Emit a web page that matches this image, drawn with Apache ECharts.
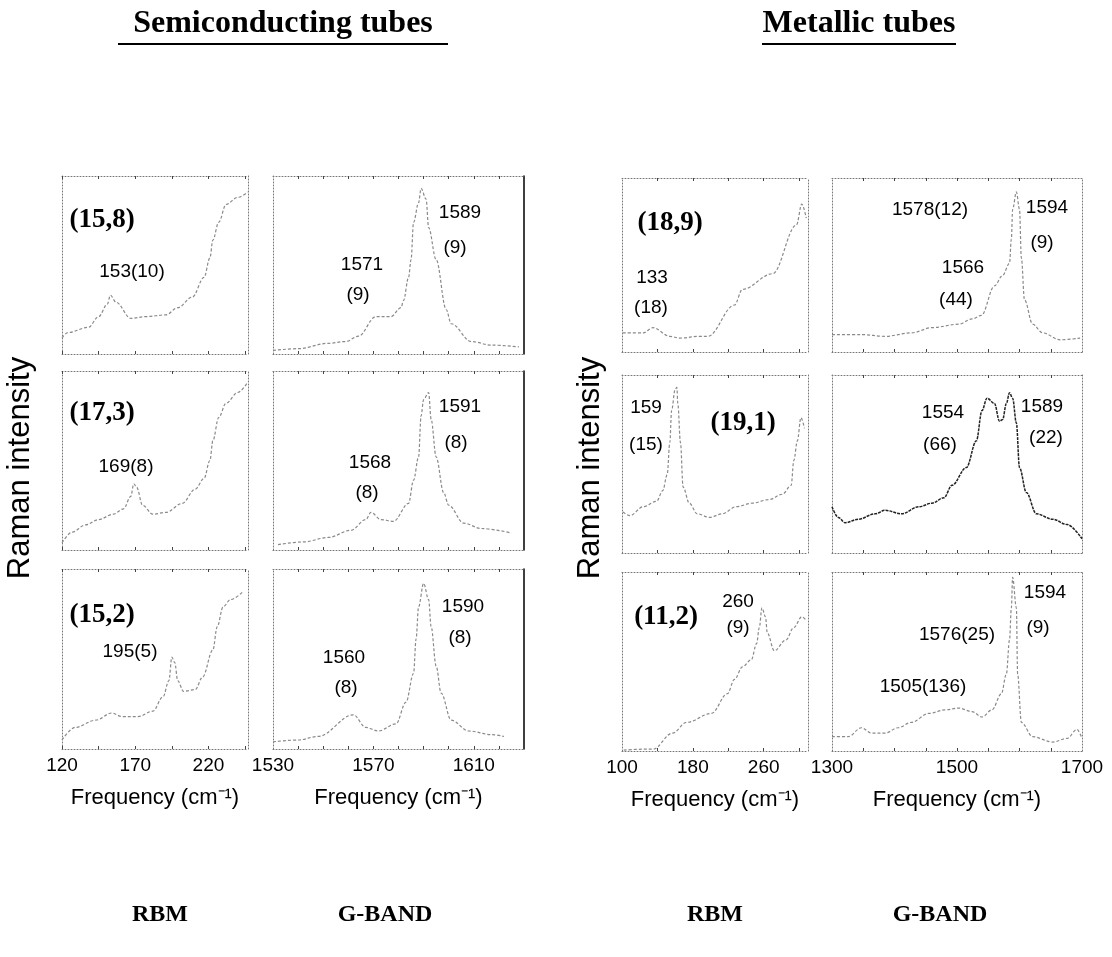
<!DOCTYPE html>
<html><head><meta charset="utf-8">
<script src="https://cdn.jsdelivr.net/npm/echarts@6/dist/echarts.min.js"></script>
<style>html,body{margin:0;padding:0;background:#fff}#c{width:1112px;height:957px}</style>
</head><body><div id="c"></div>
<script>
// ---------- tick labels ----------
const semiRBMTicks = [120, 170, 220];
const semiGTicks = [1530, 1570, 1610];
const metRBMTicks = [100, 180, 260];
const metGTicks = [1300, 1500, 1700];

// ---------- spectra (frequency in cm-1, normalised intensity) ----------
// Semiconducting (15,8)
const s158RbmFreq = [120,124,138,145,151,153,157,167,177,191,199,209,217,221,223,227,232,240,247];
const s158RbmInt  = [.09,.12,.15,.21,.28,.33,.29,.20,.21,.22,.26,.32,.43,.54,.64,.74,.84,.88,.91];
const s158GFreq = [1530,1540,1552,1559,1564,1571,1577,1581,1582,1584,1585,1586,1588,1589,1591,1592,1595,1599,1601,1609,1617,1628];
const s158GInt  = [.02,.03,.06,.07,.10,.21,.21,.26,.30,.43,.53,.74,.85,.93,.87,.71,.53,.25,.17,.07,.05,.04];
// Semiconducting (17,3)
const s173RbmFreq = [120,127,136,145,155,162,167,169,171,175,182,191,202,211,217,221,223,227,232,240,247];
const s173RbmInt  = [.04,.10,.14,.17,.20,.23,.30,.37,.35,.25,.20,.21,.26,.34,.40,.50,.61,.74,.82,.88,.94];
const s173GFreq = [1532,1542,1552,1561,1567,1569,1573,1578,1584,1586,1588,1589,1590,1592,1593,1595,1598,1600,1606,1613,1625];
const s173GInt  = [.03,.045,.07,.11,.17,.21,.17,.16,.26,.39,.52,.75,.84,.88,.73,.52,.32,.25,.15,.12,.095];
// Semiconducting (15,2)
const s152RbmFreq = [120,129,143,154,161,172,182,189,193,195,197,199,203,211,216,223,226,230,235,243];
const s152RbmInt  = [.05,.12,.16,.20,.18,.18,.21,.29,.38,.51,.48,.38,.32,.33,.40,.55,.68,.79,.83,.87];
const s152GFreq = [1530,1540,1548,1562,1567,1572,1579,1583,1586,1587,1588,1590,1592,1593,1595,1597,1601,1608,1617,1622];
const s152GInt  = [.04,.05,.07,.19,.12,.10,.14,.26,.42,.61,.79,.92,.83,.68,.46,.31,.16,.10,.08,.07];
// Metallic (18,9)
const m189RbmFreq = [101,124,135,154,165,188,197,227,236,270,297,303,308];
const m189RbmInt  = [.11,.11,.14,.09,.08,.09,.09,.27,.36,.45,.73,.85,.77];
const m189GFreq = [1300,1347,1385,1427,1460,1503,1524,1539,1560,1573,1584,1587,1589,1595,1600,1603,1608,1621,1637,1665,1697];
const m189GInt  = [.10,.10,.09,.11,.14,.16,.19,.21,.38,.44,.51,.65,.82,.92,.82,.54,.30,.16,.11,.07,.08];
// Metallic (19,1)
const m191RbmFreq = [101,109,124,139,146,151,154,156,160,162,163,166,169,176,185,199,213,229,247,266,281,291,294,298,302,306];
const m191RbmInt  = [.23,.21,.26,.29,.35,.44,.62,.80,.92,.93,.84,.62,.37,.28,.22,.20,.22,.26,.28,.30,.33,.38,.52,.63,.76,.70];
const m191GFreq = [1300,1310,1321,1342,1369,1385,1411,1439,1460,1479,1492,1515,1531,1540,1548,1560,1568,1573,1579,1584,1589,1595,1600,1611,1627,1653,1676,1700];
const m191GInt  = [.26,.20,.17,.19,.22,.24,.22,.26,.28,.31,.38,.48,.63,.80,.87,.84,.74,.75,.84,.90,.87,.73,.48,.34,.22,.19,.16,.08];
// Metallic (11,2)
const m112RbmFreq = [102,124,135,157,173,201,219,227,236,246,252,255,258,262,264,272,285,294,303,308];
const m112RbmInt  = [.005,.01,.01,.10,.16,.21,.32,.40,.47,.51,.60,.69,.80,.75,.66,.56,.62,.69,.75,.73];
const m112GFreq = [1300,1326,1347,1363,1385,1406,1427,1455,1482,1503,1524,1540,1556,1571,1579,1584,1587,1589,1595,1597,1603,1621,1653,1676,1692,1700];
const m112GInt  = [.08,.08,.13,.10,.10,.13,.16,.21,.23,.24,.22,.19,.23,.32,.43,.62,.80,.97,.80,.43,.16,.08,.05,.07,.12,.07];

// ---------- layout ----------
const cols = [{l:62,w:186},{l:273,w:251},{l:622,w:186},{l:832,w:250}];
const rowsSemi = [[176,354],[371,550],[569,749]];
const rowsMet  = [[178,352],[375,553],[572,751]];
const colRange = [[120,247],[1530,1630],[100,310],[1300,1700]];
const colLabels = [semiRBMTicks, semiGTicks, metRBMTicks, metGTicks];
const colTicks = [[120,145,170,195,220,245],
  [1540,1550,1560,1570,1580,1590,1600,1610,1620],
  [140,180,220,260,300],
  [1350,1400,1450,1500,1550,1600,1650]];

const panels = [
  {c:0,r:0,f:s158RbmFreq,i:s158RbmInt},{c:1,r:0,f:s158GFreq,i:s158GInt},
  {c:0,r:1,f:s173RbmFreq,i:s173RbmInt},{c:1,r:1,f:s173GFreq,i:s173GInt},
  {c:0,r:2,f:s152RbmFreq,i:s152RbmInt},{c:1,r:2,f:s152GFreq,i:s152GInt},
  {c:2,r:0,f:m189RbmFreq,i:m189RbmInt},{c:3,r:0,f:m189GFreq,i:m189GInt},
  {c:2,r:1,f:m191RbmFreq,i:m191RbmInt},{c:3,r:1,f:m191GFreq,i:m191GInt,dark:true},
  {c:2,r:2,f:m112RbmFreq,i:m112RbmInt},{c:3,r:2,f:m112GFreq,i:m112GInt}
];

const sansFam = '"Liberation Sans", Arial, sans-serif';
const grid=[], xAxis=[], yAxis=[], series=[];
const dotted = {color:'#777', width:1, type:[1,2]};
panels.forEach((p,k)=>{
  const col = cols[p.c];
  const rr = (p.c<2 ? rowsSemi : rowsMet)[p.r];
  grid.push({left:col.l, top:rr[0], width:col.w, height:rr[1]-rr[0], containLabel:false});
  const bottomRow = p.r===2;
  xAxis.push({type:'value', gridIndex:k, position:'bottom', min:colRange[p.c][0], max:colRange[p.c][1],
    axisLine:{show:true, onZero:false, lineStyle:dotted},
    axisTick:{show:true, inside:true, length:3, customValues:colTicks[p.c], lineStyle:{color:'#444'}},
    splitLine:{show:false},
    axisLabel:{show:bottomRow, customValues:colLabels[p.c], margin:7, fontSize:19, color:'#000',
      fontFamily:sansFam, formatter:(v)=>String(Math.round(v))},
    name: bottomRow ? 'Frequency (cm\u207B\u00B9)' : '', nameLocation:'middle', nameGap:38,
    nameTextStyle:{fontSize:22, color:'#000', fontFamily:sansFam}
  });
  xAxis.push({type:'value', gridIndex:k, position:'top', min:colRange[p.c][0], max:colRange[p.c][1],
    axisLine:{show:true, onZero:false, lineStyle:dotted},
    axisTick:{show:true, inside:true, length:3, customValues:colTicks[p.c], lineStyle:{color:'#444'}},
    splitLine:{show:false}, axisLabel:{show:false}});
  yAxis.push({type:'value', gridIndex:k, position:'left', min:0, max:1,
    axisLine:{show:true, onZero:false, lineStyle:dotted}, axisTick:{show:false},
    splitLine:{show:false}, axisLabel:{show:false}});
  yAxis.push({type:'value', gridIndex:k, position:'right', min:0, max:1,
    axisLine:{show:true, onZero:false, lineStyle: p.c===1 ? {color:'#000', width:1.5} : dotted},
    axisTick:{show:false}, splitLine:{show:false}, axisLabel:{show:false}});
  series.push({type:'line', xAxisIndex:2*k, yAxisIndex:2*k, showSymbol:false, smooth:0.35,
    smoothMonotone:'x', silent:true,
    lineStyle: p.dark ? {color:'#222', width:1.5, type:[3,1]} : {color:'#8a8a8a', width:1.2, type:[3,2]},
    data: p.f.map((v,j)=>[v, p.i[j]])});
});

const serif = '"Liberation Serif", "Times New Roman", serif';
const sans = sansFam;
function T(x,y,text,font){
  return {type:'text', silent:true, style:{x:x, y:y, text:text, font:font, fill:'#000', align:'center', verticalAlign:'middle'}};
}
function TR(x,y,text,font){
  return {type:'text', silent:true, x:x, y:y, rotation:Math.PI/2, style:{x:0, y:0, text:text, font:font, fill:'#000', align:'center', verticalAlign:'middle'}};
}
const tube = 'bold 27px ' + serif;
const ann = '19px ' + sans;
const graphic = [
  T(283,24,'Semiconducting tubes','bold 32px '+serif),
  T(859,24,'Metallic tubes','bold 32px '+serif),
  {type:'line', silent:true, shape:{x1:118,y1:44,x2:448,y2:44}, style:{stroke:'#000', lineWidth:2}},
  {type:'line', silent:true, shape:{x1:762,y1:44,x2:956,y2:44}, style:{stroke:'#000', lineWidth:2}},
  TR(20,468,'Raman intensity','31px '+sans),
  TR(590,468,'Raman intensity','31px '+sans),
  T(160,915,'RBM','bold 24px '+serif),
  T(385,915,'G-BAND','bold 24px '+serif),
  T(715,915,'RBM','bold 24px '+serif),
  T(940,915,'G-BAND','bold 24px '+serif),
  // semiconducting panels
  T(102,220,'(15,8)',tube), T(132,272,'153(10)',ann),
  T(460,213,'1589',ann), T(455,248,'(9)',ann), T(362,265,'1571',ann), T(358,295,'(9)',ann),
  T(102,413,'(17,3)',tube), T(126,467,'169(8)',ann),
  T(460,407,'1591',ann), T(456,443,'(8)',ann), T(370,463,'1568',ann), T(367,493,'(8)',ann),
  T(102,615,'(15,2)',tube), T(130,652,'195(5)',ann),
  T(463,607,'1590',ann), T(460,638,'(8)',ann), T(344,658,'1560',ann), T(346,688,'(8)',ann),
  // metallic panels
  T(670,223,'(18,9)',tube), T(652,278,'133',ann), T(651,308,'(18)',ann),
  T(930,210,'1578(12)',ann), T(1047,208,'1594',ann), T(1042,243,'(9)',ann), T(963,268,'1566',ann), T(956,300,'(44)',ann),
  T(646,408,'159',ann), T(646,445,'(15)',ann), T(743,423,'(19,1)',tube),
  T(943,413,'1554',ann), T(940,445,'(66)',ann), T(1042,407,'1589',ann), T(1046,438,'(22)',ann),
  T(666,617,'(11,2)',tube), T(738,602,'260',ann), T(738,628,'(9)',ann),
  T(1045,593,'1594',ann), T(1038,628,'(9)',ann), T(957,635,'1576(25)',ann), T(923,687,'1505(136)',ann)
];

const chart = echarts.init(document.getElementById('c'), null, {renderer:'canvas'});
chart.setOption({backgroundColor:'#fff', animation:false, grid, xAxis, yAxis, series, graphic});
</script></body></html>
